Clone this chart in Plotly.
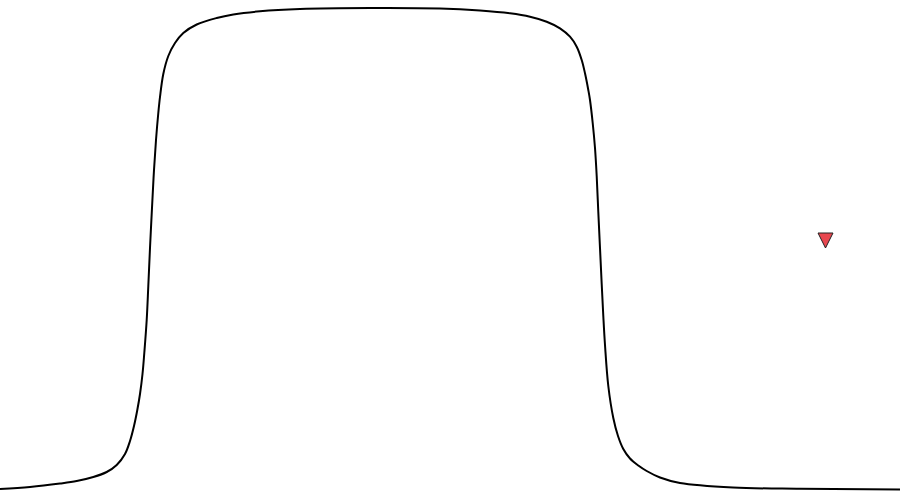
import plotly.graph_objects as go

# curve samples (x position, height above bottom)
curve_x = [0, 30, 60, 76.7, 93.3, 106.7, 116.7, 125, 130, 134, 137.3, 140, 142.5,
           144.3, 146.7, 148.3, 150, 152.3, 154, 156, 158.3, 160, 163.3, 168.3, 175,
           183.3, 196.7, 216.7, 233.3, 260, 300, 370, 440, 480, 510, 530, 546.7, 560,
           570, 576.7, 581.7, 585, 588.3, 590, 592.7, 595, 596.7, 598.3, 600, 601.7,
           603.3, 605, 608.3, 613.3, 618, 623.3, 630, 638.3, 646.7, 660, 680, 733,
           800, 900]
curve_y = [9, 11, 14.5, 17, 21, 26, 33, 44, 57, 72, 88, 104, 124,
           145, 178, 212, 250, 296, 328, 358, 385, 401, 424, 442, 455,
           465, 473.5, 480, 483.5, 486.7, 489, 490, 489.5, 487.5, 484.7, 481.3, 476.3, 469.7,
           461.3, 451.3, 438, 424.7, 408, 398, 375, 350, 322, 286, 250, 214,
           182, 153, 112, 80, 62, 49, 39.5, 32.5, 27, 20.5, 15, 10.5,
           9.2, 8.5]

# single marker
marker_x = [825.5]
marker_y = [250]

fig = go.Figure()
fig.add_trace(go.Scatter(
    x=curve_x, y=curve_y, mode="lines",
    line=dict(color="black", width=2, shape="spline", smoothing=1),
    hoverinfo="skip", showlegend=False,
))
fig.add_trace(go.Scatter(
    x=marker_x, y=marker_y, mode="markers",
    marker=dict(symbol="arrow-down", size=15, color="#e8474f",
                line=dict(color="#222222", width=1)),
    showlegend=False,
))
fig.update_layout(
    width=900, height=498,
    margin=dict(l=0, r=0, t=0, b=0),
    paper_bgcolor="white", plot_bgcolor="white",
    xaxis=dict(range=[0, 900], visible=False, fixedrange=True),
    yaxis=dict(range=[0, 498], visible=False, fixedrange=True),
)
fig.write_html(
    "out.html",
    config={"displayModeBar": False},
    post_script="document.body.style.margin='0';document.body.style.overflow='hidden';",
)
